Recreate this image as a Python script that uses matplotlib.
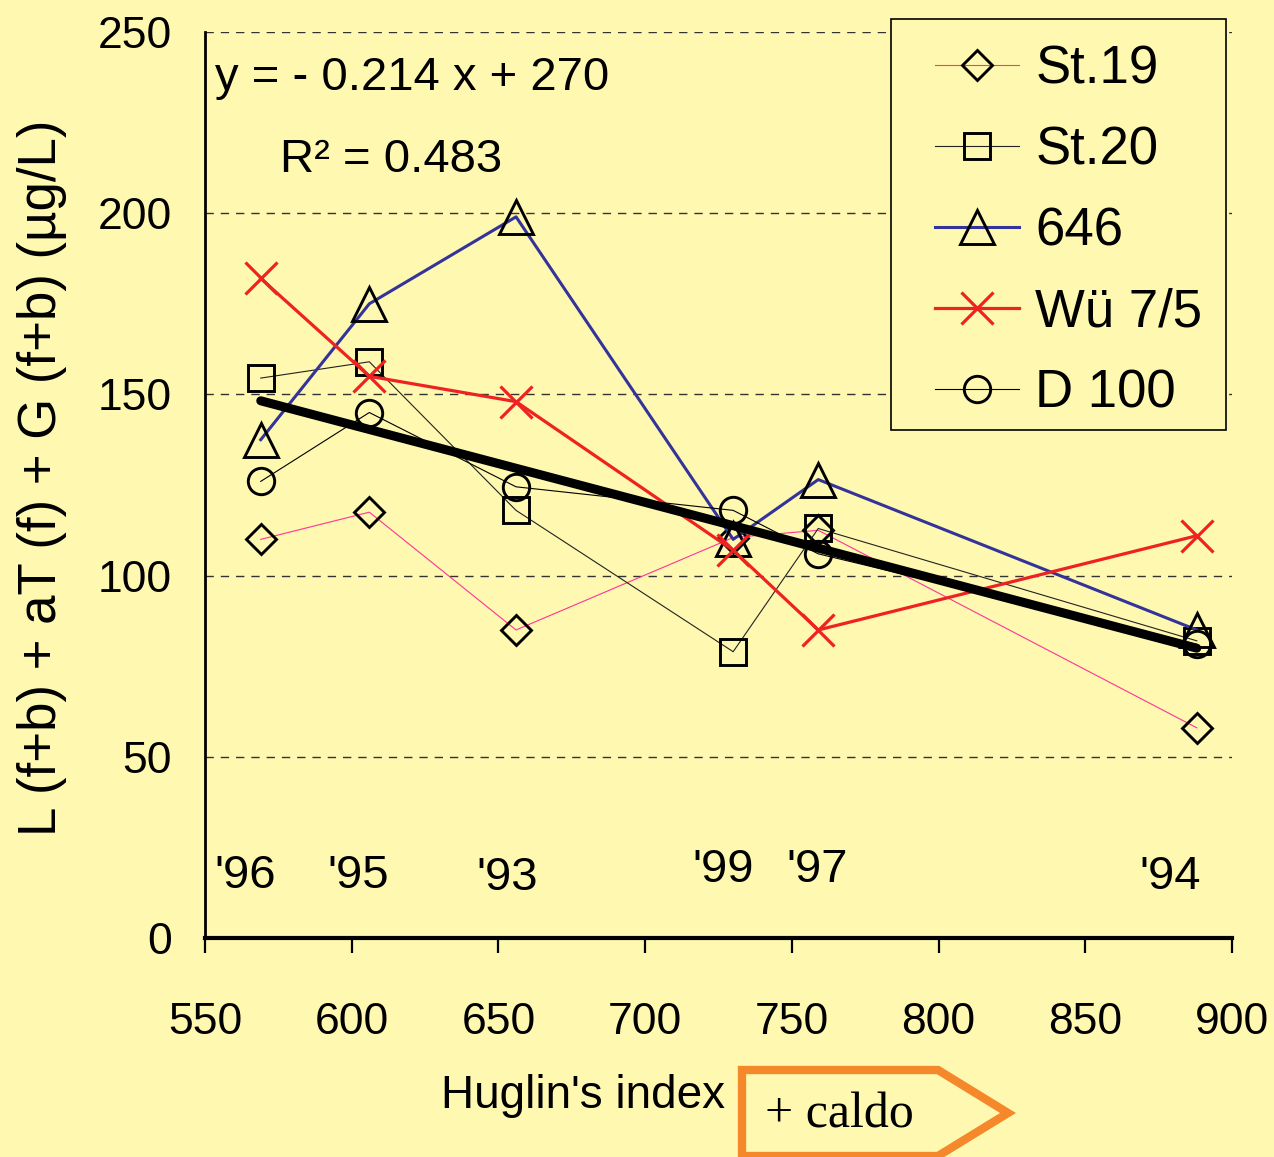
import numpy as np
import matplotlib
matplotlib.use("Agg")
import matplotlib.pyplot as plt
from matplotlib.patches import Polygon, Rectangle

plt.rcParams['font.family'] = ['Liberation Sans', 'DejaVu Sans']

# data
huglin = [569, 606, 656, 730, 759, 888]
years = ["'96", "'95", "'93", "'99", "'97", "'94"]
year_x = [563.6, 602.1, 652.9, 726.5, 758.6, 878.9]
year_y = [17.1, 17.1, 16.6, 18.8, 18.8, 16.8]

st19 = [110, 117.5, 85, 110.5, 112.5, 58]
st20 = [154.5, 159, 118, 79, 113, 82]
s646 = [137.5, 175, 199, 110, 126.5, 85]
wu75 = [182, 155, 148, 107, 85, 111]
d100 = [126, 145, 124.5, 118, 106, 81]

labels = ['St.19', 'St.20', '646', 'Wü 7/5', 'D 100']
slope, intercept = -0.214, 270
r2 = 0.483

bg = '#FFF8B0'
W, H = 1274, 1157
fig = plt.figure(figsize=(W / 100, H / 100), dpi=100, facecolor=bg)
ax = fig.add_axes([205 / W, 1 - 938 / H, 1027 / W, 906 / H], facecolor=bg)

mew = 2.1
ax.plot(huglin, st19, color='#FF3399', lw=0.8, marker='D', ms=15, mfc='none', mec='black', mew=mew, label=labels[0])
ax.plot(huglin, st20, color='#222222', lw=0.8, marker='s', ms=19, mfc='none', mec='black', mew=mew, label=labels[1])
ax.plot(huglin, s646, color='#333399', lw=2.2, marker='^', ms=25, mfc='none', mec='black', mew=mew, label=labels[2])
ax.plot(huglin, wu75, color='#EE2222', lw=2.3, marker='x', ms=23, mec='#EE2222', mew=2.3, label=labels[3])
ax.plot(huglin, d100, color='black', lw=0.8, marker='o', ms=19, mfc='none', mec='black', mew=mew, label=labels[4])

# linear trend
tx = np.array([min(huglin), max(huglin)])
ax.plot(tx, slope * tx + intercept, color='black', lw=6.5, solid_capstyle='round', zorder=5)

ax.set_xlim(550, 900)
ax.set_ylim(0, 250)
ax.set_xticks(np.arange(550, 901, 50))
ax.set_yticks(np.arange(0, 251, 50))
for v in [50, 100, 150, 200, 250]:
    ax.axhline(v, color='#333333', lw=1, ls=(0, (6, 5)), zorder=0)

for s in ['top', 'right']:
    ax.spines[s].set_visible(False)
ax.spines['left'].set_linewidth(2)
ax.spines['bottom'].set_linewidth(3)
ax.tick_params(axis='x', direction='out', length=11, width=1.6, labelsize=32, pad=35)
ax.tick_params(axis='y', length=0, labelsize=32, pad=24)

for t, x, y in zip(years, year_x, year_y):
    ax.text(x, y, t, fontsize=34, ha='center', va='center')

ax.text(0.01, 0.949, 'y = - %.3f x + %d' % (-slope, intercept), transform=ax.transAxes,
        fontsize=34, ha='left', va='center')
ax.text(0.073, 0.859, 'R² = %.3f' % r2, transform=ax.transAxes, fontsize=34, ha='left', va='center')

ax.set_xlabel("Huglin's index", fontsize=33)
ax.xaxis.set_label_coords(0.368, -0.150)
ax.set_ylabel('L (f+b) + aT (f) + G (f+b) (µg/L)', fontsize=38)
ax.yaxis.label.set_va('center')
ax.yaxis.set_label_coords(-0.159, 0.508)

# legend box drawn separately so the padding matches
box = Rectangle((891 / W, 1 - 430 / H), 335 / W, 411 / H, transform=fig.transFigure,
                facecolor=bg, edgecolor='black', lw=1.2, clip_on=False, zorder=4.5)
ax.add_patch(box)
leg = ax.legend(loc='upper left', bbox_to_anchor=(935 / W, 1 - 44 / H), bbox_transform=fig.transFigure,
                fontsize=38, frameon=False, handlelength=1.6, handletextpad=0.3, labelspacing=0.59,
                borderpad=0, borderaxespad=0)
leg.set_zorder(6)

# "+ caldo" arrow
pts = [(742, 1070), (938, 1070), (1008, 1113), (938, 1156), (742, 1156)]
arrow = Polygon([(x / W, 1 - y / H) for x, y in pts], closed=True, transform=fig.transFigure,
                facecolor='none', edgecolor='#F5882A', lw=6, joinstyle='miter')
fig.patches.append(arrow)
fig.text(765 / W, 1 - 1115 / H, '+ caldo', fontsize=36, family='Liberation Serif', ha='left', va='center')

fig.savefig('out.png', dpi=100, facecolor=bg)
